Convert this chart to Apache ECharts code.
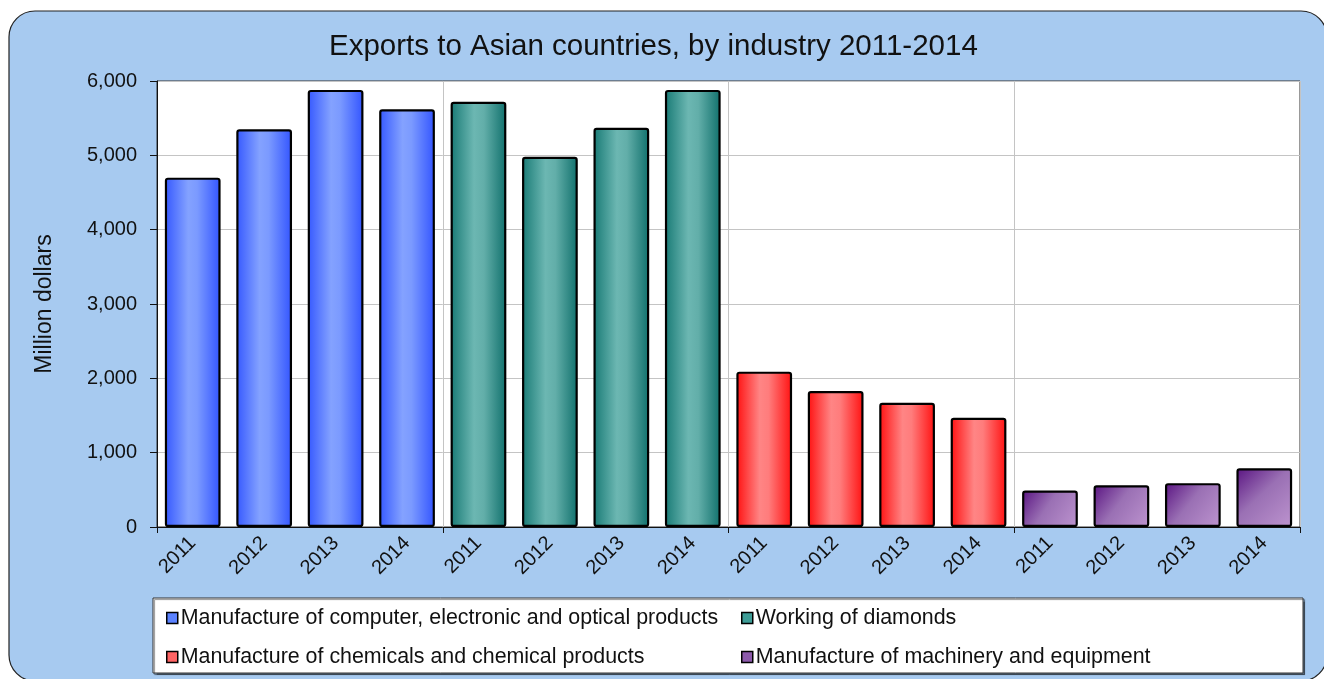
<!DOCTYPE html>
<html>
<head>
<meta charset="utf-8">
<script src="https://cdn.jsdelivr.net/npm/echarts@6/dist/echarts.min.js"></script>
<style>
  html, body { margin: 0; padding: 0; background: #ffffff; }
  #chart { width: 1324px; height: 679px; }
</style>
</head>
<body>
<div id="chart"></div>
<script>
// Export values, million dollars, for each industry by year
const years = ['2011', '2012', '2013', '2014'];
const industries = [
  'Manufacture of computer, electronic and optical products',
  'Working of diamonds',
  'Manufacture of chemicals and chemical products',
  'Manufacture of machinery and equipment'
];
const computerValues = [4700, 5350, 5880, 5620];
const diamondValues = [5720, 4980, 5370, 5880];
const chemicalValues = [2090, 1830, 1670, 1470];
const machineryValues = [490, 560, 590, 790];
const yTicks = [0, 1000, 2000, 3000, 4000, 5000, 6000];

const FONT = '"Liberation Sans", Arial, sans-serif';

// 16 slots on the category axis: four years for each industry in turn
const categories = [];
industries.forEach(() => years.forEach(y => categories.push(y)));

function placeInGroup(values, groupIndex) {
  const out = categories.map(() => '-');
  values.forEach((v, i) => { out[groupIndex * years.length + i] = v; });
  return out;
}

function hGrad(stops) {
  return { type: 'linear', x: 0, y: 0, x2: 1, y2: 0,
           colorStops: stops.map(([o, c]) => ({ offset: o, color: c })) };
}

const fills = [
  hGrad([[0, '#3558ff'], [0.42, '#84a2ff'], [0.58, '#7b9aff'], [1, '#3254ff']]),
  hGrad([[0, '#187a75'], [0.42, '#6cb7b2'], [0.6, '#62aea9'], [1, '#10706c']]),
  hGrad([[0, '#ff1010'], [0.42, '#ff8585'], [0.58, '#ff7c7c'], [1, '#ff1010']]),
  { type: 'linear', x: 0, y: 0, x2: 1, y2: 1,
    colorStops: [{ offset: 0, color: '#5a1482' }, { offset: 0.45, color: '#9a70b4' }, { offset: 1, color: '#bd94cf' }] }
];
const legendColors = ['#5b82ff', '#3e9d97', '#ff6464', '#8d5aab'];
const groupValues = [computerValues, diamondValues, chemicalValues, machineryValues];

const series = industries.map((name, i) => ({
  name: name,
  type: 'bar',
  stack: 'exports',
  barWidth: '78%',
  xAxisIndex: 0,
  data: placeInGroup(groupValues[i], i),
  itemStyle: { color: fills[i], borderColor: '#000', borderWidth: 2.2, borderRadius: 2 }
}));

function legendEntry(i) {
  return { name: industries[i], itemStyle: { color: legendColors[i], borderColor: '#000', borderWidth: 1.5 } };
}

const legendCommon = {
  orient: 'vertical',
  top: 607,
  itemWidth: 11,
  itemHeight: 11,
  itemGap: 17,
  icon: 'rect',
  padding: 0,
  selectedMode: false,
  textStyle: { fontFamily: FONT, fontSize: 21.4, color: '#111', lineHeight: 22, padding: [0, 0, 0, -2] }
};

const chart = echarts.init(document.getElementById('chart'), null, { renderer: 'canvas' });
chart.setOption({
  animation: false,
  backgroundColor: '#ffffff',
  graphic: [
    { type: 'rect', z: -10, silent: true,
      shape: { x: 9, y: 11, width: 1318, height: 670, r: 26 },
      style: { fill: '#a7caf0', stroke: '#222', lineWidth: 1.2 } },
    { type: 'rect', z: 1, silent: true,
      shape: { x: 153, y: 598, width: 1150, height: 75 },
      style: { fill: '#ffffff', stroke: '#333', lineWidth: 1,
               shadowColor: 'rgba(0,0,0,0.45)', shadowOffsetX: 1.5, shadowOffsetY: 1.5, shadowBlur: 1 } }
  ],
  title: {
    text: 'Exports to Asian countries, by industry 2011-2014',
    left: 329, top: 32, padding: 0,
    textStyle: { fontFamily: FONT, fontSize: 29.5, fontWeight: 'normal', color: '#111' }
  },
  legend: [
    Object.assign({}, legendCommon, { left: 166, data: [legendEntry(0), legendEntry(2)] }),
    Object.assign({}, legendCommon, { left: 741, data: [legendEntry(1), legendEntry(3)] })
  ],
  grid: {
    left: 157, right: 24, top: 81, bottom: 152,
    show: true, backgroundColor: '#ffffff', borderColor: '#333', borderWidth: 1
  },
  xAxis: [
    {
      type: 'category', data: categories, position: 'bottom',
      axisLine: { lineStyle: { color: '#111', width: 1 } },
      axisTick: { show: false },
      splitLine: { show: false },
      axisLabel: { interval: 0, rotate: 45, margin: 13, fontFamily: FONT, fontSize: 20, color: '#111' }
    },
    {
      type: 'category', data: industries, position: 'bottom',
      axisLine: { show: false },
      axisTick: { show: true, interval: 0, length: 6, lineStyle: { color: '#111' } },
      axisLabel: { show: false, interval: 0 },
      splitLine: { show: true, interval: 0, lineStyle: { color: '#c4c4c4', width: 1 } }
    }
  ],
  yAxis: {
    type: 'value', min: yTicks[0], max: yTicks[yTicks.length - 1], interval: 1000,
    name: 'Million dollars', nameLocation: 'middle', nameRotate: 90, nameGap: 101,
    nameTextStyle: { fontFamily: FONT, fontSize: 23, color: '#111' },
    axisLine: { show: true, lineStyle: { color: '#111', width: 1 } },
    axisTick: { show: true, length: 7, lineStyle: { color: '#111' } },
    axisLabel: { margin: 20, fontFamily: FONT, fontSize: 20, color: '#111',
                 formatter: v => v.toLocaleString('en-US') },
    splitLine: { show: true, lineStyle: { color: '#c4c4c4', width: 1 } }
  },
  series: series
});
</script>
</body>
</html>
